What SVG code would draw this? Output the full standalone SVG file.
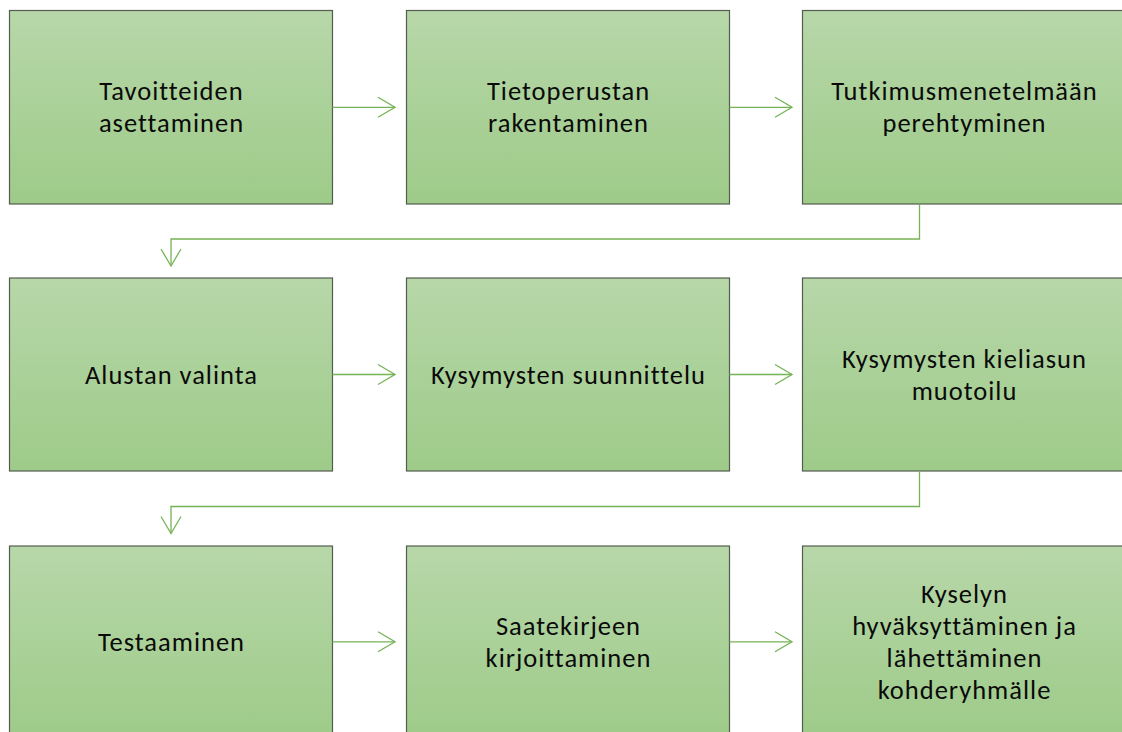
<svg xmlns="http://www.w3.org/2000/svg" width="1122" height="732" viewBox="0 0 1122 732">
<defs>
<linearGradient id="g" x1="0" y1="0" x2="0" y2="1">
<stop offset="0" stop-color="#b7d7a9"/>
<stop offset="1" stop-color="#9ecb89"/>
</linearGradient>
<marker id="ah" markerUnits="userSpaceOnUse" markerWidth="22" markerHeight="24" refX="18" refY="11" orient="auto" viewBox="0 0 22 22">
<path d="M1,1 L18,11 L1,21" fill="none" stroke="#76b356" stroke-width="1.3"/>
</marker>
<style>
.box{fill:url(#g);stroke:#545c50;stroke-width:1.2}
.t{font-family:Carlito,Lato,"Liberation Sans",sans-serif;font-size:26.5px;letter-spacing:1px;fill:#0a0a0a;text-anchor:middle}
.c{fill:none;stroke:#76b356;stroke-width:1.3;marker-end:url(#ah)}
</style>
</defs>
<rect width="1122" height="732" fill="#fff"/>
<g id="n1"><rect class="box" x="9.5" y="10.5" width="323" height="193.5"/><text class="t" x="171.5" y="100">Tavoitteiden</text><text class="t" x="171.5" y="132">asettaminen</text></g>
<g id="n2"><rect class="box" x="406.5" y="10.5" width="323" height="193.5"/><text class="t" x="568.5" y="100">Tietoperustan</text><text class="t" x="568.5" y="132">rakentaminen</text></g>
<g id="n3"><rect class="box" x="802.5" y="10.5" width="323" height="193.5"/><text class="t" x="964.5" y="100">Tutkimusmenetelmään</text><text class="t" x="964.5" y="132">perehtyminen</text></g>
<g id="n4"><rect class="box" x="9.5" y="278" width="323" height="193"/><text class="t" x="171.5" y="384">Alustan valinta</text></g>
<g id="n5"><rect class="box" x="406.5" y="278" width="323" height="193"/><text class="t" x="568.5" y="384">Kysymysten suunnittelu</text></g>
<g id="n6"><rect class="box" x="802.5" y="278" width="323" height="193"/><text class="t" x="964.5" y="368">Kysymysten kieliasun</text><text class="t" x="964.5" y="400">muotoilu</text></g>
<g id="n7"><rect class="box" x="9.5" y="546" width="323" height="193"/><text class="t" x="171.5" y="651">Testaaminen</text></g>
<g id="n8"><rect class="box" x="406.5" y="546" width="323" height="193"/><text class="t" x="568.5" y="635">Saatekirjeen</text><text class="t" x="568.5" y="667">kirjoittaminen</text></g>
<g id="n9"><rect class="box" x="802.5" y="546" width="323" height="193"/><text class="t" x="964.5" y="603">Kyselyn</text><text class="t" x="964.5" y="635">hyväksyttäminen ja</text><text class="t" x="964.5" y="667">lähettäminen</text><text class="t" x="964.5" y="699">kohderyhmälle</text></g>
<g id="connectors">
<path class="c" d="M332.5,107.3 H395"/>
<path class="c" d="M729.5,107.3 H792"/>
<path class="c" d="M919.5,204 V239 H171 V266"/>
<path class="c" d="M332.5,374.5 H395"/>
<path class="c" d="M729.5,374.5 H792"/>
<path class="c" d="M919.5,471 V506.5 H171 V533.5"/>
<path class="c" d="M332.5,641.8 H395"/>
<path class="c" d="M729.5,641.8 H792"/>
</g>
</svg>
